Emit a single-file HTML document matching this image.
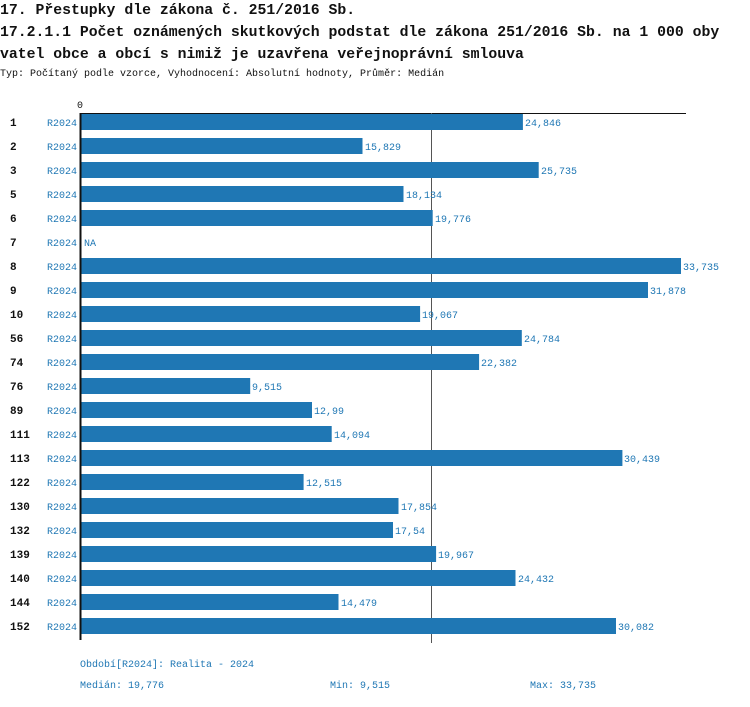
<!DOCTYPE html>
<html><head><meta charset="utf-8"><style>
body{margin:0;background:#fff;width:750px;height:702px;overflow:hidden;font-family:"Liberation Mono",monospace;}
</style></head><body>
<svg width="750" height="702" xmlns="http://www.w3.org/2000/svg" font-family="Liberation Mono, monospace">
<g font-size="14.8" font-weight="bold" fill="#111">
<text x="0" y="14">17. Přestupky dle zákona č. 251/2016 Sb.</text>
<text x="0" y="36">17.2.1.1 Počet oznámených skutkových podstat dle zákona 251/2016 Sb. na 1 000 oby</text>
<text x="0" y="58">vatel obce a obcí s nimiž je uzavřena veřejnoprávní smlouva</text>
</g>
<text x="0" y="76" font-size="10" fill="#111">Typ: Počítaný podle vzorce, Vyhodnocení: Absolutní hodnoty, Průměr: Medián</text>
<text x="77" y="108" font-size="10" fill="#111">0</text>
<line x1="80" y1="113.5" x2="686" y2="113.5" stroke="#111" stroke-width="1"/>
<line x1="431.5" y1="113" x2="431.5" y2="643" stroke="#555" stroke-width="1"/>
<g font-size="11" font-weight="bold" fill="#111">
<text x="10" y="126">1</text><text x="10" y="150">2</text><text x="10" y="174">3</text><text x="10" y="198">5</text><text x="10" y="222">6</text><text x="10" y="246">7</text><text x="10" y="270">8</text><text x="10" y="294">9</text><text x="10" y="318">10</text><text x="10" y="342">56</text><text x="10" y="366">74</text><text x="10" y="390">76</text><text x="10" y="414">89</text><text x="10" y="438">111</text><text x="10" y="462">113</text><text x="10" y="486">122</text><text x="10" y="510">130</text><text x="10" y="534">132</text><text x="10" y="558">139</text><text x="10" y="582">140</text><text x="10" y="606">144</text><text x="10" y="630">152</text>
</g>
<g font-size="10" fill="#1f77b4">
<text x="47" y="126">R2024</text><text x="47" y="150">R2024</text><text x="47" y="174">R2024</text><text x="47" y="198">R2024</text><text x="47" y="222">R2024</text><text x="47" y="246">R2024</text><text x="47" y="270">R2024</text><text x="47" y="294">R2024</text><text x="47" y="318">R2024</text><text x="47" y="342">R2024</text><text x="47" y="366">R2024</text><text x="47" y="390">R2024</text><text x="47" y="414">R2024</text><text x="47" y="438">R2024</text><text x="47" y="462">R2024</text><text x="47" y="486">R2024</text><text x="47" y="510">R2024</text><text x="47" y="534">R2024</text><text x="47" y="558">R2024</text><text x="47" y="582">R2024</text><text x="47" y="606">R2024</text><text x="47" y="630">R2024</text>
</g>
<g fill="#1f77b4">
<rect x="81" y="114" width="441.9" height="16"/>
<rect x="81" y="138" width="281.5" height="16"/>
<rect x="81" y="162" width="457.7" height="16"/>
<rect x="81" y="186" width="322.5" height="16"/>
<rect x="81" y="210" width="351.7" height="16"/>
<rect x="81" y="258" width="600" height="16"/>
<rect x="81" y="282" width="567.0" height="16"/>
<rect x="81" y="306" width="339.1" height="16"/>
<rect x="81" y="330" width="440.8" height="16"/>
<rect x="81" y="354" width="398.1" height="16"/>
<rect x="81" y="378" width="169.2" height="16"/>
<rect x="81" y="402" width="231.0" height="16"/>
<rect x="81" y="426" width="250.7" height="16"/>
<rect x="81" y="450" width="541.4" height="16"/>
<rect x="81" y="474" width="222.6" height="16"/>
<rect x="81" y="498" width="317.5" height="16"/>
<rect x="81" y="522" width="312.0" height="16"/>
<rect x="81" y="546" width="355.1" height="16"/>
<rect x="81" y="570" width="434.5" height="16"/>
<rect x="81" y="594" width="257.5" height="16"/>
<rect x="81" y="618" width="535.0" height="16"/>
</g>
<g font-size="10" fill="#1f77b4">
<text x="525" y="126">24,846</text>
<text x="365" y="150">15,829</text>
<text x="541" y="174">25,735</text>
<text x="406" y="198">18,134</text>
<text x="435" y="222">19,776</text>
<text x="84" y="246">NA</text>
<text x="683" y="270">33,735</text>
<text x="650" y="294">31,878</text>
<text x="422" y="318">19,067</text>
<text x="524" y="342">24,784</text>
<text x="481" y="366">22,382</text>
<text x="252" y="390">9,515</text>
<text x="314" y="414">12,99</text>
<text x="334" y="438">14,094</text>
<text x="624" y="462">30,439</text>
<text x="306" y="486">12,515</text>
<text x="401" y="510">17,854</text>
<text x="395" y="534">17,54</text>
<text x="438" y="558">19,967</text>
<text x="518" y="582">24,432</text>
<text x="341" y="606">14,479</text>
<text x="618" y="630">30,082</text>
</g>
<line x1="80.5" y1="113" x2="80.5" y2="640" stroke="#111" stroke-width="2"/>
<g font-size="10" fill="#1f77b4">
<text x="80" y="667">Období[R2024]: Realita - 2024</text>
<text x="80" y="688">Medián: 19,776</text>
<text x="330" y="688">Min: 9,515</text>
<text x="530" y="688">Max: 33,735</text>
</g>
</svg>
</body></html>
